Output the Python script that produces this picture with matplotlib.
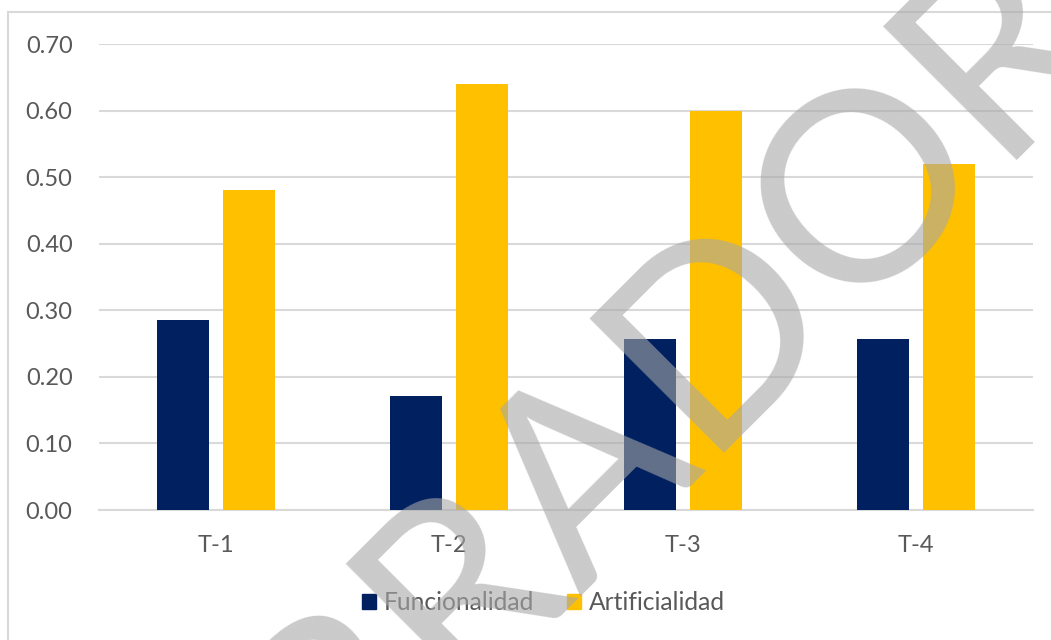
import matplotlib
matplotlib.use("Agg")
import matplotlib.pyplot as plt
from matplotlib.patches import Rectangle, Patch
import numpy as np

plt.rcParams['font.family'] = ['Lato', 'DejaVu Sans']

categorias = ["T-1", "T-2", "T-3", "T-4"]
funcionalidad = [0.286, 0.171, 0.257, 0.257]
artificialidad = [0.48, 0.64, 0.60, 0.52]
yticks = [0.0, 0.1, 0.2, 0.3, 0.4, 0.5, 0.6, 0.7]

azul = "#002060"
amarillo = "#FFC000"
gris_texto = "#595959"
gris_linea = "#d9d9d9"

fig = plt.figure(figsize=(10.51, 6.40), dpi=100)
ax = fig.add_axes([0.0942, 0.2031, 0.8887, 0.7281])

# marco del area del grafico
fig.patches.append(Rectangle((8 / 1051, -0.1), 1.2, 0.1 + 1 - 12 / 640,
                             transform=fig.transFigure, fill=False,
                             edgecolor=gris_linea, linewidth=1.5))

x = np.arange(len(categorias))
ancho = 0.223
sep = 0.0295
ax.bar(x - ancho / 2 - sep, funcionalidad, ancho, color=azul, zorder=3)
ax.bar(x + ancho / 2 + sep, artificialidad, ancho, color=amarillo, zorder=3)

ax.set_xlim(-0.5, len(categorias) - 0.5)
ax.set_ylim(0, 0.70)
ax.set_yticks(yticks)
ax.set_yticklabels([f"{v:.2f}" for v in yticks])
ax.set_xticks(x)
ax.set_xticklabels(categorias)
ax.yaxis.grid(True, color=gris_linea, linewidth=1.5, zorder=0)
ax.set_axisbelow(True)
for s in ax.spines.values():
    s.set_visible(False)
ax.tick_params(axis="both", length=0, labelsize=17, colors=gris_texto)
ax.tick_params(axis="y", pad=19)
ax.tick_params(axis="x", pad=18)
ax.axhline(0, color=gris_linea, linewidth=1.5, zorder=2, clip_on=False)

handles = [Patch(color=azul, label="Funcionalidad"),
           Patch(color=amarillo, label="Artificialidad")]
fig.legend(handles=handles, loc="center", bbox_to_anchor=(0.517, 0.058),
           ncol=2, frameon=False, fontsize=17.7, labelcolor=gris_texto,
           handlelength=0.58, handleheight=0.58, handletextpad=0.3,
           columnspacing=1.35)

# marca de agua
fig.text(0.561, 0.119, "BORRADOR", rotation=45, rotation_mode="anchor",
         ha="center", va="baseline", fontsize=191, color="#a7a7a7",
         alpha=0.6, zorder=10)

fig.savefig("out.png", dpi=100)
